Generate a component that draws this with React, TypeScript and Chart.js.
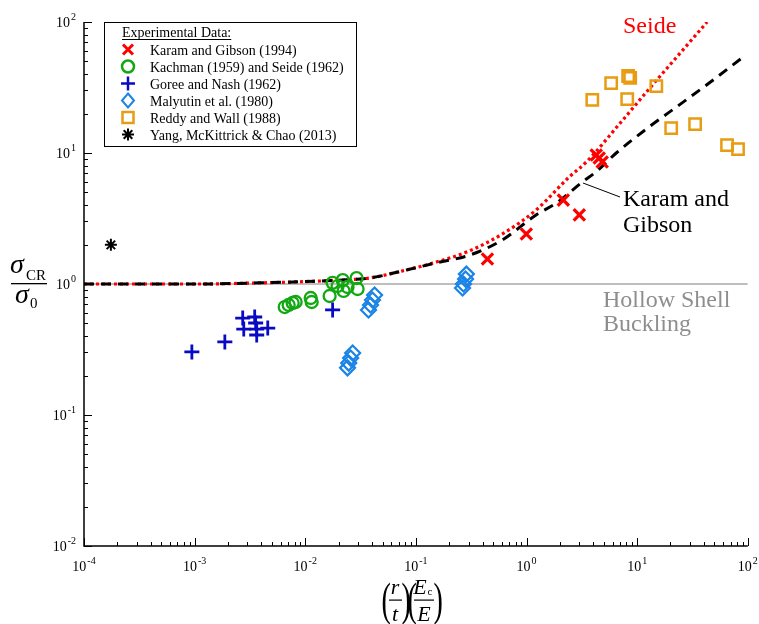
import React, { useEffect, useRef } from 'react';
import { Chart, registerables } from 'chart.js';

Chart.register(...registerables);

// ---------------- data ----------------
const karamX = [0.443, 0.995, 2.15, 3.0, 4.27, 4.54, 4.83];
const karamY = [1.55, 2.41, 4.37, 3.37, 9.66, 9.17, 8.53];

const kachmanX = [0.00652, 0.00708, 0.00769, 0.00818, 0.0112, 0.01143, 0.0166, 0.01767, 0.0196, 0.0218, 0.0222, 0.0241, 0.0291, 0.0297];
const kachmanY = [0.667, 0.692, 0.716, 0.729, 0.782, 0.729, 0.81, 1.02, 0.965, 1.07, 0.885, 0.949, 1.11, 0.916];

const goreeX = [0.000944, 0.001875, 0.00272, 0.00278, 0.00349, 0.00356, 0.00364, 0.00364, 0.00458, 0.01767];
const goreeY = [0.303, 0.361, 0.549, 0.453, 0.56, 0.504, 0.453, 0.408, 0.461, 0.634];

const malyutinX = [0.0423, 0.0405, 0.0389, 0.0373, 0.0268, 0.0257, 0.0247, 0.0241, 0.286, 0.281, 0.269, 0.264];
const malyutinY = [0.824, 0.755, 0.692, 0.634, 0.297, 0.272, 0.249, 0.229, 1.19, 1.09, 1.0, 0.932];

const reddyX = [3.93, 5.82, 8.29, 8.65, 8.13, 14.9, 20.3, 33.4, 64.9, 81.6];
const reddyY = [25.4, 34.2, 38.7, 37.4, 25.8, 32.4, 15.5, 16.6, 11.5, 10.7];

const yangX = [0.000175];
const yangY = [1.99];

const seideCurveX = [0.0001, 0.0011, 0.0039, 0.0089, 0.02, 0.038, 0.076, 0.153, 0.305, 0.605, 1.22, 2.43, 3.47, 6.89, 12.8, 23.9, 42.9];
const seideCurveY = [1.0, 1.0, 1.02, 1.04, 1.07, 1.11, 1.26, 1.47, 1.79, 2.41, 3.67, 6.56, 8.53, 16.6, 30.8, 56.6, 100];

const karamCurveX = [0.0001, 0.0011, 0.0039, 0.0089, 0.02, 0.038, 0.076, 0.153, 0.305, 0.605, 1.22, 1.86, 3.19, 4.27, 6.47, 12.8, 23.9, 44.7, 96];
const karamCurveY = [1.0, 1.0, 1.02, 1.04, 1.07, 1.11, 1.26, 1.45, 1.66, 2.17, 3.37, 4.15, 6.0, 7.2, 10, 15.8, 23.2, 34.2, 56];

const hollowX = [0.0001, 100];
const hollowY = [1, 1];

const xTickExponents = [-4, -3, -2, -1, 0, 1, 2];
const yTickExponents = [-2, -1, 0, 1, 2];

const legendLabels = [
  'Karam and Gibson (1994)',
  'Kachman (1959) and Seide (1962)',
  'Goree and Nash (1962)',
  'Malyutin et al. (1980)',
  'Reddy and Wall (1988)',
  'Yang, McKittrick & Chao (2013)',
];

// ---------------- styles ----------------
const RED = '#ff0000';
const GREEN = '#12a812';
const BLUE = '#0a0ac4';
const LBLUE = '#1a84e6';
const ORANGE = '#e89c12';
const GRAY = '#a8a8a8';
const SERIF = '"Liberation Serif", "Times New Roman", serif';

const pts = (xs: number[], ys: number[]) => xs.map((x, i) => ({ x, y: ys[i] }));

function drawMarker(ctx: CanvasRenderingContext2D, kind: string, x: number, y: number, color: string) {
  ctx.save();
  ctx.strokeStyle = color;
  ctx.beginPath();
  if (kind === 'crossRot') {
    ctx.lineWidth = 3;
    const d = 5;
    ctx.moveTo(x - d, y - d); ctx.lineTo(x + d, y + d);
    ctx.moveTo(x - d, y + d); ctx.lineTo(x + d, y - d);
  } else if (kind === 'circle') {
    ctx.lineWidth = 2.5;
    ctx.arc(x, y, 6, 0, Math.PI * 2);
  } else if (kind === 'cross') {
    ctx.lineWidth = 2.5;
    ctx.moveTo(x - 7, y); ctx.lineTo(x + 7, y);
    ctx.moveTo(x, y - 7); ctx.lineTo(x, y + 7);
  } else if (kind === 'rectRot') {
    ctx.lineWidth = 2;
    ctx.moveTo(x, y - 7); ctx.lineTo(x + 6, y); ctx.lineTo(x, y + 7); ctx.lineTo(x - 6, y); ctx.closePath();
  } else if (kind === 'rect') {
    ctx.lineWidth = 2.5;
    ctx.rect(x - 5.5, y - 5.5, 11, 11);
  } else if (kind === 'star') {
    ctx.lineWidth = 2;
    const d = 6, e = 4.3;
    ctx.moveTo(x - d, y); ctx.lineTo(x + d, y);
    ctx.moveTo(x, y - d); ctx.lineTo(x, y + d);
    ctx.moveTo(x - e, y - e); ctx.lineTo(x + e, y + e);
    ctx.moveTo(x - e, y + e); ctx.lineTo(x + e, y - e);
  }
  ctx.stroke();
  ctx.restore();
}

function drawPow(ctx: CanvasRenderingContext2D, exp: number, x: number, baseY: number, align: 'center' | 'right') {
  ctx.save();
  ctx.fillStyle = '#000';
  ctx.textAlign = 'left';
  ctx.textBaseline = 'alphabetic';
  ctx.font = `14px ${SERIF}`;
  const wb = ctx.measureText('10').width;
  ctx.font = `10px ${SERIF}`;
  const es = exp < 0 ? '-' + Math.abs(exp) : String(exp);
  const we = ctx.measureText(es).width;
  const total = wb + we + 1;
  const start = align === 'center' ? x - total / 2 : x - total;
  ctx.font = `14px ${SERIF}`;
  ctx.fillText('10', start, baseY);
  ctx.font = `10px ${SERIF}`;
  ctx.fillText(es, start + wb + 1, baseY - 7);
  ctx.restore();
}

const decoPlugin = {
  id: 'deco',
  afterDraw(chart: any) {
    const { ctx, chartArea: a, scales } = chart;
    const xs = scales.x, ys = scales.y;
    ctx.save();
    // axis lines
    ctx.strokeStyle = '#000';
    ctx.lineWidth = 1.5;
    ctx.beginPath();
    ctx.moveTo(a.left, a.top);
    ctx.lineTo(a.left, a.bottom);
    ctx.lineTo(a.right, a.bottom);
    ctx.stroke();

    // ticks (inward)
    ctx.lineWidth = 1;
    ctx.beginPath();
    for (let i = 0; i < xTickExponents.length; i++) {
      const e = xTickExponents[i];
      const last = i === xTickExponents.length - 1;
      for (let m = 1; m <= (last ? 1 : 9); m++) {
        const px = Math.round(xs.getPixelForValue(m * Math.pow(10, e))) + 0.5;
        const len = m === 1 ? 8 : 4;
        ctx.moveTo(px, a.bottom);
        ctx.lineTo(px, a.bottom - len);
      }
    }
    for (let i = 0; i < yTickExponents.length; i++) {
      const e = yTickExponents[i];
      const last = i === yTickExponents.length - 1;
      for (let m = 1; m <= (last ? 1 : 9); m++) {
        const py = Math.round(ys.getPixelForValue(m * Math.pow(10, e))) + 0.5;
        const len = m === 1 ? 8 : 4;
        ctx.moveTo(a.left, py);
        ctx.lineTo(a.left + len, py);
      }
    }
    ctx.stroke();

    // tick labels
    for (const e of xTickExponents) {
      drawPow(ctx, e, xs.getPixelForValue(Math.pow(10, e)), a.bottom + 25, 'center');
    }
    for (const e of yTickExponents) {
      drawPow(ctx, e, a.left - 8, ys.getPixelForValue(Math.pow(10, e)) + 5, 'right');
    }

    // y axis title: sigma_CR / sigma_0
    ctx.fillStyle = '#000';
    ctx.textAlign = 'left';
    ctx.font = `italic 28px ${SERIF}`;
    ctx.fillText('σ', 10, 273);
    ctx.font = `15px ${SERIF}`;
    ctx.fillText('CR', 26, 280);
    ctx.fillRect(11, 283, 36, 1.3);
    ctx.font = `italic 28px ${SERIF}`;
    ctx.fillText('σ', 15, 303);
    ctx.font = `15px ${SERIF}`;
    ctx.fillText('0', 30, 308);

    // x axis title: (r/t)(Ec/E)
    const paren = (ch: string, inkLeft: number) => {
      ctx.save();
      ctx.font = `28px ${SERIF}`;
      ctx.translate(inkLeft - 1.5, 615);
      ctx.scale(1, 1.65);
      ctx.fillText(ch, 0, 0);
      ctx.restore();
    };
    paren('(', 383);
    paren(')', 403);
    paren('(', 409);
    paren(')', 435);
    ctx.font = `italic 22px ${SERIF}`;
    ctx.textAlign = 'center';
    ctx.fillText('r', 395, 594);
    ctx.fillText('t', 395, 621);
    ctx.fillRect(389, 599.5, 13, 1.2);
    ctx.fillText('E', 420, 594);
    ctx.fillText('E', 424, 621);
    ctx.font = `11px ${SERIF}`;
    ctx.fillText('c', 430, 595);
    ctx.fillRect(414, 599.5, 20, 1.2);

    // annotations
    ctx.textAlign = 'left';
    ctx.font = `24px ${SERIF}`;
    ctx.fillStyle = RED;
    ctx.fillText('Seide', 623, 33);
    ctx.fillStyle = '#000';
    ctx.fillText('Karam and', 623, 206);
    ctx.fillText('Gibson', 623, 232);
    ctx.strokeStyle = '#000';
    ctx.lineWidth = 1;
    ctx.beginPath();
    ctx.moveTo(583, 183);
    ctx.lineTo(620, 197);
    ctx.stroke();
    ctx.fillStyle = '#8e8e8e';
    ctx.fillText('Hollow Shell', 603, 307);
    ctx.fillText('Buckling', 603, 331);

    // legend box
    ctx.fillStyle = '#fff';
    ctx.fillRect(104, 22, 253, 125);
    ctx.strokeStyle = '#000';
    ctx.lineWidth = 1;
    ctx.strokeRect(104.5, 22.5, 252, 124);
    ctx.fillStyle = '#000';
    ctx.font = `14px ${SERIF}`;
    ctx.fillText('Experimental Data:', 122, 37);
    const tw = ctx.measureText('Experimental Data:').width;
    ctx.fillRect(122, 39, tw, 1);
    const kinds = ['crossRot', 'circle', 'cross', 'rectRot', 'rect', 'star'];
    const colors = [RED, GREEN, BLUE, LBLUE, ORANGE, '#000'];
    for (let i = 0; i < legendLabels.length; i++) {
      const by = 54.5 + i * 17;
      drawMarker(ctx, kinds[i], 128, by - 5, colors[i]);
      ctx.fillStyle = '#000';
      ctx.fillText(legendLabels[i], 150, by);
    }
    ctx.restore();
  },
};

export default function App() {
  const ref = useRef<HTMLCanvasElement>(null);
  useEffect(() => {
    const hollow = 'rgba(0,0,0,0)';
    const chart = new Chart(ref.current!, {
      type: 'scatter',
      data: {
        datasets: [
          { label: 'Yang', data: pts(yangX, yangY), pointStyle: 'star', pointRadius: 6, pointBorderWidth: 2, borderColor: '#000', backgroundColor: hollow, order: 1 },
          { label: 'Reddy', data: pts(reddyX, reddyY), pointStyle: 'rect', pointRadius: 8, pointBorderWidth: 2.5, borderColor: ORANGE, backgroundColor: hollow, order: 2 },
          { label: 'Malyutin', data: pts(malyutinX, malyutinY), pointStyle: 'rectRot', pointRadius: 7.5, pointBorderWidth: 2.2, borderColor: LBLUE, backgroundColor: hollow, order: 3 },
          { label: 'Goree', data: pts(goreeX, goreeY), pointStyle: 'cross', pointRadius: 7.5, pointBorderWidth: 2.8, borderColor: BLUE, backgroundColor: hollow, order: 4 },
          { label: 'Kachman', data: pts(kachmanX, kachmanY), pointStyle: 'circle', pointRadius: 6, pointBorderWidth: 2.3, borderColor: GREEN, backgroundColor: hollow, order: 5 },
          { label: 'Karam', data: pts(karamX, karamY), pointStyle: 'crossRot', pointRadius: 8, pointBorderWidth: 3.2, borderColor: RED, backgroundColor: hollow, order: 6 },
          { label: 'KaramCurve', data: pts(karamCurveX, karamCurveY), showLine: true, pointRadius: 0, borderColor: '#000', borderWidth: 3, borderDash: [10, 7], cubicInterpolationMode: 'monotone', order: 7 },
          { label: 'SeideCurve', data: pts(seideCurveX, seideCurveY), showLine: true, pointRadius: 0, borderColor: RED, borderWidth: 3.2, borderDash: [3, 3], cubicInterpolationMode: 'monotone', order: 8 },
          { label: 'Hollow', data: pts(hollowX, hollowY), showLine: true, pointRadius: 0, borderColor: GRAY, borderWidth: 1.5, order: 9 },
        ] as any,
      },
      options: {
        responsive: false,
        animation: false,
        devicePixelRatio: 1,
        layout: { padding: { left: 84, right: 10, top: 22, bottom: 78 } },
        scales: {
          x: { type: 'logarithmic', min: 1e-4, max: 1e2, display: false },
          y: { type: 'logarithmic', min: 1e-2, max: 1e2, display: false },
        },
        plugins: { legend: { display: false }, tooltip: { enabled: false } },
        events: [],
      } as any,
      plugins: [decoPlugin],
    });
    return () => chart.destroy();
  }, []);
  return (
    <div style={{ position: 'absolute', left: 0, top: 0, width: 759, height: 624, background: '#fff' }}>
      <canvas ref={ref} width={759} height={624} style={{ display: 'block', width: 759, height: 624 }} />
    </div>
  );
}
